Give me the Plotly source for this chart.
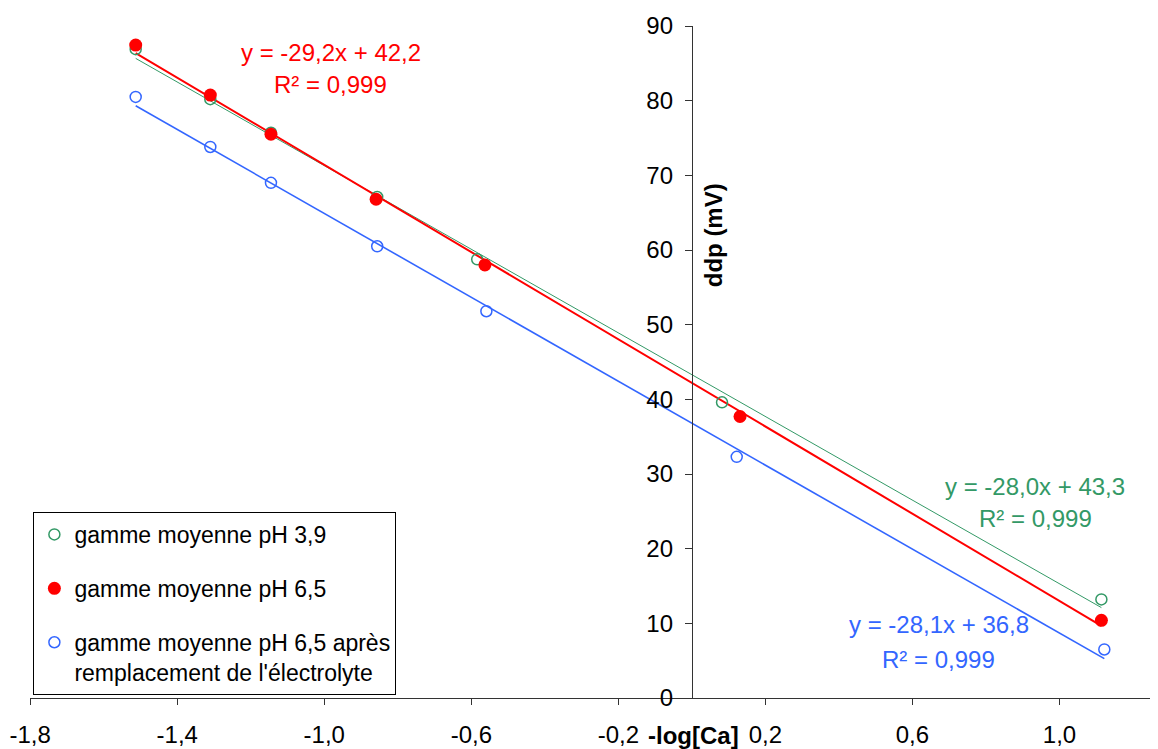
import numpy as np
import plotly.graph_objects as go

# ---- data ----
x_green = [-1.513, -1.310, -1.145, -0.856, -0.584, 0.082, 1.114]
y_green = [86.9, 80.2, 75.7, 67.1, 58.75, 39.6, 13.2]

x_red = [-1.513, -1.310, -1.145, -0.859, -0.563, 0.131, 1.114]
y_red = [87.45, 80.75, 75.5, 66.8, 58.0, 37.7, 10.4]

x_blue = [-1.513, -1.310, -1.145, -0.856, -0.559, 0.122, 1.122]
y_blue = [80.5, 73.8, 69.0, 60.5, 51.8, 32.3, 6.5]

names = ["gamme moyenne pH 3,9", "gamme moyenne pH 6,5",
         "gamme moyenne pH 6,5 après<br>remplacement de l'électrolyte"]
slopes = [-28.0, -29.2, -28.1]
intercepts = [43.3, 42.2, 36.8]
eq_texts = ["y = -28,0x + 43,3", "y = -29,2x + 42,2", "y = -28,1x + 36,8"]
r2_texts = ["R² = 0,999", "R² = 0,999", "R² = 0,999"]

x_ticks = [-1.8, -1.4, -1.0, -0.6, -0.2, 0.2, 0.6, 1.0]
x_ticktext = ["-1,8", "-1,4", "-1,0", "-0,6", "-0,2", "0,2", "0,6", "1,0"]
y_ticks = [0, 10, 20, 30, 40, 50, 60, 70, 80, 90]

GREEN = "#339966"
RED = "#FF0000"
BLUE = "#3366FF"
FONT = "Liberation Sans, Arial, sans-serif"
FS = 24

X_RANGE = [-1.8005, 1.268]
fig = go.Figure()

series = [(x_green, y_green, GREEN, "circle-open", 11, 1.0),
          (x_red, y_red, RED, "circle", 13, 2.0),
          (x_blue, y_blue, BLUE, "circle-open", 11, 1.6)]

# trendlines (from the equations shown)
for i, (xs, ys, col, sym, sz, lw) in enumerate(series):
    xl = np.array([min(xs), max(xs)])
    yl = slopes[i] * xl + intercepts[i]
    fig.add_trace(go.Scatter(x=xl, y=yl, mode="lines",
                             line=dict(color=col, width=lw),
                             showlegend=False, hoverinfo="skip"))

# markers
for i, (xs, ys, col, sym, sz, lw) in enumerate(series):
    mk = dict(color=col, size=sz, symbol=sym)
    if sym == "circle-open":
        mk["line"] = dict(color=col, width=1.5)
    fig.add_trace(go.Scatter(x=xs, y=ys, mode="markers", marker=mk,
                             name=names[i], legendgroup=f"g{i}"))

ypos = (0 - X_RANGE[0]) / (X_RANGE[1] - X_RANGE[0])

# equation annotations
eq_pos = [((0.934, 28.3), (0.934, 24.07)),
          ((-0.982, 86.4), (-0.982, 82.1)),
          ((0.671, 9.78), (0.671, 5.18))]
cols = [GREEN, RED, BLUE]
for i in range(3):
    (ex, ey), (rx, ry) = eq_pos[i]
    fig.add_annotation(x=ex, y=ey, text=eq_texts[i], showarrow=False,
                       font=dict(color=cols[i], size=FS, family=FONT),
                       xanchor="center", yanchor="middle")
    fig.add_annotation(x=rx, y=ry, text=r2_texts[i], showarrow=False,
                       font=dict(color=cols[i], size=FS, family=FONT),
                       xanchor="center", yanchor="middle")

# axis titles
fig.add_annotation(x=0.005, y=-0.056, xref="x", yref="paper",
                   text="<b>-log[Ca]</b>", showarrow=False,
                   font=dict(size=FS, family=FONT, color="black"),
                   xanchor="center", yanchor="middle")
fig.add_annotation(x=0.058, y=62.0, xref="x", yref="y",
                   text="<b>ddp (mV)</b>", showarrow=False, textangle=-90,
                   font=dict(size=FS, family=FONT, color="black"),
                   xanchor="center", yanchor="middle")

fig.update_layout(
    template="none",
    width=1150, height=741,
    margin=dict(l=22, r=0, t=18, b=51, autoexpand=False),
    paper_bgcolor="white", plot_bgcolor="white",
    font=dict(family=FONT, size=FS, color="black"),
    showlegend=True,
    legend=dict(x=0.003, y=0.2768, xanchor="left", yanchor="top",
                bordercolor="black", borderwidth=1, bgcolor="white",
                font=dict(size=23, family=FONT, color="black"),
                tracegroupgap=21, valign="top"),
    xaxis=dict(range=X_RANGE, tickvals=x_ticks, ticktext=x_ticktext,
               automargin=False, ticklabeloverflow="allow",
               showgrid=False, zeroline=False, showline=True,
               linecolor="#333333", linewidth=1,
               ticks="outside", ticklen=6, tickcolor="#333333",
               ticklabelstandoff=9,
               tickfont=dict(size=FS, family=FONT, color="black")),
    yaxis=dict(range=[0, 90], tickvals=y_ticks, anchor="free",
               automargin=False,
               position=ypos, showgrid=False, zeroline=False,
               showline=True, linecolor="#333333", linewidth=1,
               ticks="outside", ticklen=7, tickcolor="#333333",
               ticklabelstandoff=7,
               tickfont=dict(size=FS, family=FONT, color="black")),
)

fig.write_html("out.html")
